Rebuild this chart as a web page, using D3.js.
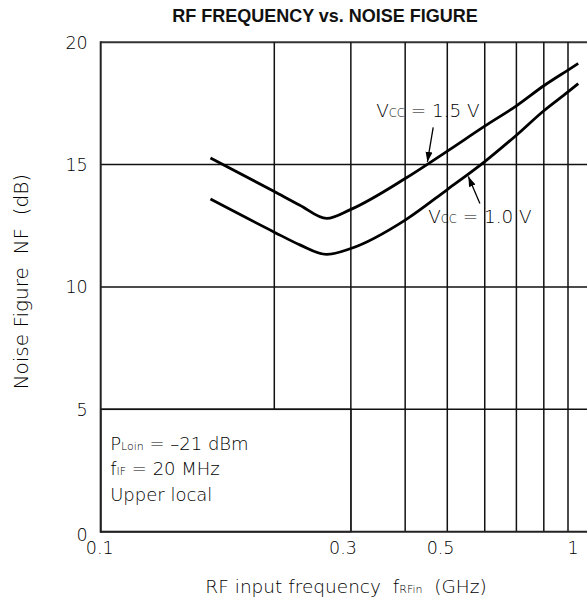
<!DOCTYPE html>
<html>
<head>
<meta charset="utf-8">
<script src="https://cdn.jsdelivr.net/npm/d3@7"></script>
<style>
  html, body { margin: 0; padding: 0; background: #fff; }
  svg { display: block; }
  text { font-family: "DejaVu Sans", sans-serif; fill: #000; white-space: pre; font-weight: 300; }
</style>
</head>
<body>
<svg id="chart" width="587" height="605"></svg>
<script>
// ---------- data ----------
const freqGHz   = [0.155, 0.2, 0.229, 0.264, 0.3, 0.4, 0.5, 0.6, 0.7, 0.8, 0.9, 0.946];
const nfVcc15   = [15.27, 13.90, 13.34, 12.80, 13.17, 14.43, 15.55, 16.57, 17.40, 18.22, 18.86, 19.13];
const nfVcc10   = [13.59, 12.24, 11.72, 11.33, 11.57, 12.73, 13.98, 15.12, 16.20, 17.20, 17.97, 18.31];
const xGridValues  = [0.2, 0.3, 0.4, 0.5, 0.6, 0.7, 0.8, 0.9, 1.0];
const xTickValues  = [0.1, 0.3, 0.5, 1];
const xTickLabels  = ["0.1", "0.3", "0.5", "1"];
const yTickValues  = [0, 5, 10, 15, 20];
const yGridValues  = [5, 10, 15, 20];
const seriesNames  = ["1.5", "1.0"];

const svg = d3.select("#chart");

// ---------- scales (calibrated piecewise log, as in the printed grid) ----------
const x = d3.scaleLog().domain([0.1, 0.2, 0.5, 0.9]).range([100.7, 274.3, 447.3, 568]);
const xLabel = d3.scaleLog().domain([0.1, 0.3, 1]).range([99.7, 343, 573]);
const y = d3.scaleLinear().domain([0, 20]).range([531.7, 42.2]);
const xRight = x(1.0);

// ---------- grid ----------
const g = svg.append("g");
g.selectAll("line.hg").data(yGridValues).join("line")
  .attr("x1", x(0.1)).attr("x2", xRight)
  .attr("y1", d => y(d)).attr("y2", d => y(d))
  .attr("stroke", d => d === 20 ? "#333" : "#111")
  .attr("stroke-width", d => d === 20 ? 2 : 1.5);
g.selectAll("line.vg").data(xGridValues).join("line")
  .attr("x1", d => x(d)).attr("x2", d => x(d))
  .attr("y1", y(20)).attr("y2", y(0))
  .attr("stroke", "#111").attr("stroke-width", 1.5);

// condition box (covers lower-left region 0.1–0.3 GHz, 0–5 dB)
g.append("rect")
  .attr("x", x(0.1)).attr("y", y(5))
  .attr("width", x(0.3) - x(0.1)).attr("height", y(0) - y(5))
  .attr("fill", "#fff").attr("stroke", "#111").attr("stroke-width", 1.5);

// frame: left and bottom
g.append("line").attr("x1", x(0.1)).attr("x2", x(0.1)).attr("y1", y(20) - 1).attr("y2", y(0) + 1)
  .attr("stroke", "#222").attr("stroke-width", 2);
g.append("line").attr("x1", x(0.1)).attr("x2", xRight).attr("y1", y(0)).attr("y2", y(0))
  .attr("stroke", "#222").attr("stroke-width", 2);

// ---------- curves ----------
const line = d3.line().x(d => x(d[0])).y(d => y(d[1])).curve(d3.curveMonotoneX);
[nfVcc15, nfVcc10].forEach(vals => {
  svg.append("path")
    .attr("d", line(freqGHz.map((f, i) => [f, vals[i]])))
    .attr("fill", "none").attr("stroke", "#000").attr("stroke-width", 2.8)
    .attr("stroke-linejoin", "round");
});

// ---------- axes labels ----------
svg.append("g").selectAll("text").data(yTickValues).join("text")
  .attr("x", x(0.1) - 13).attr("y", d => y(d) + (d === 0 ? 3 : 0))
  .attr("dy", "0.36em").attr("text-anchor", "end")
  .attr("font-size", 17.5).text(d => d);

svg.append("g").selectAll("text").data(xTickValues).join("text")
  .attr("x", d => xLabel(d)).attr("y", y(0) + 22.7)
  .attr("text-anchor", "middle").attr("font-size", 17.5)
  .text((d, i) => xTickLabels[i]);

// title
svg.append("text").attr("x", 325).attr("y", 21.7).attr("text-anchor", "middle")
  .style("font-family", "'Liberation Sans', Arial, sans-serif").style("font-weight", "bold")
  .attr("font-size", 18).style("fill", "#111")
  .text("RF FREQUENCY vs. NOISE FIGURE");

// x title
const xt = svg.append("text").attr("x", 346).attr("y", 592.7).attr("text-anchor", "middle")
  .attr("font-size", 18.5);
xt.append("tspan").text("RF input frequency  f");
xt.append("tspan").attr("font-size", 11).text("RFin");
xt.append("tspan").text("  (GHz)");

// y title
svg.append("text").attr("transform", "translate(28.3,281.7) rotate(-90)")
  .attr("text-anchor", "middle").attr("font-size", 20)
  .text("Noise Figure  NF  (dB)");

// ---------- condition text ----------
const cx = x(0.1) + 9.5;
const c1 = svg.append("text").attr("x", cx).attr("y", y(3.34)).attr("font-size", 18);
c1.append("tspan").text("P");
c1.append("tspan").attr("font-size", 11).text("Loin");
c1.append("tspan").text(" = \u201321 dBm");
const c2 = svg.append("text").attr("x", cx).attr("y", y(3.34) + 25.5).attr("font-size", 18);
c2.append("tspan").text("f");
c2.append("tspan").attr("font-size", 11).text("IF");
c2.append("tspan").text(" = 20 MHz");
svg.append("text").attr("x", cx).attr("y", y(3.34) + 51).attr("font-size", 18).text("Upper local");

// ---------- annotations ----------
svg.append("defs").append("marker").attr("id", "arr")
  .attr("viewBox", "0 0 10 10").attr("refX", 10).attr("refY", 5)
  .attr("markerWidth", 10).attr("markerHeight", 10).attr("markerUnits", "userSpaceOnUse")
  .attr("orient", "auto")
  .append("path").attr("d", "M0,1.5 L10,5 L0,8.5 Z").attr("fill", "#000");

const annots = [
  { name: seriesNames[0], tx: 0.343, ty: 16.95, ax: [0.464, 16.52], at: [0.450, 15.11] },
  { name: seriesNames[1], tx: 0.452, ty: 12.60, ax: [0.586, 13.41], at: [0.554, 14.51] }
];
annots.forEach(a => {
  const t = svg.append("text").attr("x", x(a.tx)).attr("y", y(a.ty)).attr("font-size", 18.4);
  t.append("tspan").text("V");
  t.append("tspan").attr("font-size", 11.5).text("CC");
  t.append("tspan").text(" = " + a.name + " V");
  svg.append("line")
    .attr("x1", x(a.ax[0])).attr("y1", y(a.ax[1]))
    .attr("x2", x(a.at[0])).attr("y2", y(a.at[1]))
    .attr("stroke", "#000").attr("stroke-width", 1.3)
    .attr("marker-end", "url(#arr)");
});
</script>
</body>
</html>
